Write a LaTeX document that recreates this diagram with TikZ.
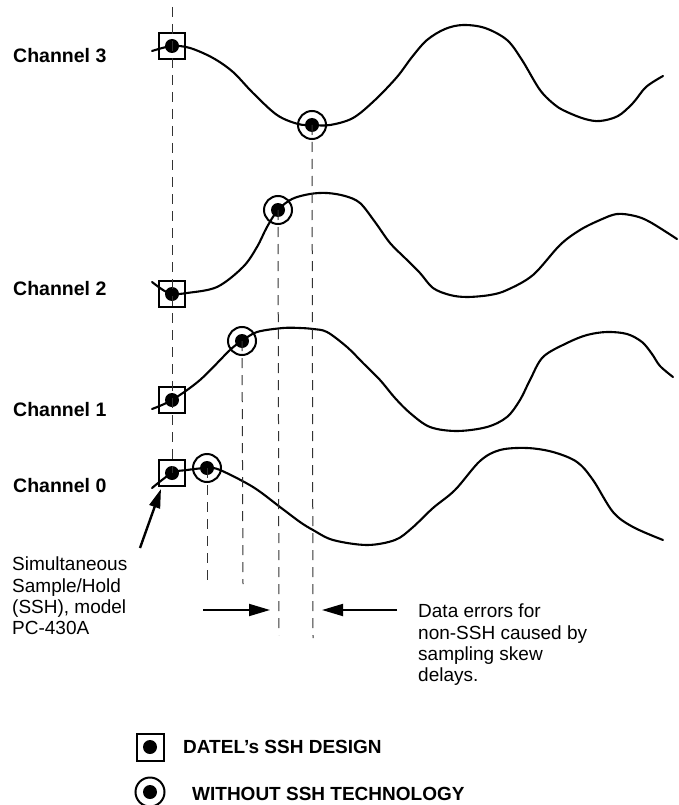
\documentclass[tikz,border=0pt]{standalone}
\usepackage{fontspec}
\setmainfont{Liberation Sans}
\usetikzlibrary{arrows.meta,calc}
\begin{document}
\begin{tikzpicture}[x=1pt,y=-1pt,
  wave/.style={line width=2.1pt, line cap=round, line join=round},
  guide/.style={black!80, line width=1pt, dash pattern=on 10pt off 7pt},
  sshbox/.style={draw, line width=2pt, minimum size=26pt, inner sep=0pt,
    path picture={\fill (path picture bounding box.center) circle[radius=7pt];}},
  nossh/.style={draw, circle, line width=2pt, minimum size=28pt, inner sep=0pt,
    path picture={\fill (path picture bounding box.center) circle[radius=7pt];}},
  chlabel/.style={anchor=base west, inner sep=0pt, font=\bfseries\fontsize{19.5}{22}\selectfont},
  note/.style={anchor=north west, inner sep=0pt, align=left, font=\fontsize{19}{21.3}\selectfont},
  legtext/.style={anchor=base west, inner sep=0pt, font=\bfseries\fontsize{19}{22}\selectfont},
  bigarrow/.style={line width=1.8pt, -{Triangle[length=21pt,width=12pt]}},
  ptarrow/.style={line width=2.4pt, -{Triangle[length=19pt,width=11pt]}}
]
\useasboundingbox (0,0) rectangle (678,805);

% waves
\draw[wave] plot[smooth,tension=0.55] coordinates {(152,51) (172,46) (190,48) (213,58) (233,72) (253,93) (277,115) (298,124) (312,125) (330,125) (353,118) (375,100) (397,77) (412,57) (427,40) (445,29) (463,25) (485,28) (507,40) (522,60) (540,90) (555,105) (567,112) (585,119) (600,121) (618,116) (633,103) (646,87) (663,76)};
\draw[wave] plot[smooth,tension=0.55] coordinates {(152,282) (163,290) (172,294) (187,293) (217,287) (243,267) (257,247) (267,227) (278,210) (292,199) (310,194) (327,193) (345,196) (360,203) (375,222) (390,243) (405,258) (420,273) (433,288) (450,295) (467,297) (490,295) (507,290) (533,275) (560,245) (580,230) (600,220) (617,214) (635,216) (650,222) (677,239)};
\draw[wave] plot[smooth,tension=0.55] coordinates {(152,409) (172,400) (200,380) (230,350) (242,341) (257,332) (283,328) (300,328) (313,329) (327,332) (347,347) (363,363) (380,380) (395,398) (410,413) (430,427) (457,431) (487,427) (507,417) (520,400) (530,380) (543,357) (567,343) (587,335) (607,332) (627,334) (642,342) (652,354) (660,366) (673,377)};
\draw[wave] plot[smooth,tension=0.55] coordinates {(152,488) (172,473) (187,470) (207,468) (220,470) (253,487) (280,507) (300,522) (313,530) (333,540) (367,545) (395,540) (412,528) (433,508) (455,490) (480,461) (500,450) (527,448) (553,452) (577,462) (593,480) (613,512) (633,527) (663,540)};

% markers
\node[sshbox] (b3) at (172,46) {};
\node[sshbox] (b2) at (172,294) {};
\node[sshbox] (b1) at (172,400) {};
\node[sshbox] (b0) at (172,473) {};
\node[nossh] (c3) at (312,125) {};
\node[nossh] (c2) at (278,210) {};
\node[nossh] (c1) at (242,341) {};
\node[nossh] (c0) at (207,468) {};

% guide lines
\coordinate (top) at (172,7);
\coordinate (e0) at (207,585);
\coordinate (e1) at (243,584);
\coordinate (e2) at (279,635);
\coordinate (e3) at (313,638);
\draw[guide] (top) -- (b0.center);
\draw[guide] (c0.center) -- (e0);
\draw[guide] (c1.center) -- (e1);
\draw[guide] (c2.center) -- (e2);
\draw[guide] (c3.center) -- (e3);

% channel labels
\node[chlabel] (l3) at (13,63) {Channel 3};
\node[chlabel] (l2) at (13,295) {Channel 2};
\node[chlabel] (l1) at (13,416) {Channel 1};
\node[chlabel] (l0) at (13,492) {Channel 0};

% notes
\node[note] (ssh) at (12,557) {Simultaneous\\Sample/Hold\\(SSH), model\\PC-430A};
\node[note] (err) at (418,604) {Data errors for\\non-SSH caused by\\sampling skew\\delays.};

% arrows
\coordinate (a0) at (140,548);
\draw[ptarrow] (a0) -- ($(b0.south west)+(3,2)$);
\coordinate (la) at (203,610);
\coordinate (lt) at (270,610);
\coordinate (ra) at (397,610);
\coordinate (rt) at (322,610);
\draw[bigarrow] (la) -- (lt);
\draw[bigarrow] (ra) -- (rt);

% legend
\node[sshbox, minimum size=27pt] (kb) at (150,747) {};
\node[nossh, minimum size=29pt] (kc) at (150,792) {};
\node[legtext] (kbt) at (183,753) {DATEL{\char"27}s SSH DESIGN};
\node[legtext] (kct) at (192,800) {WITHOUT SSH TECHNOLOGY};
\end{tikzpicture}
\end{document}
